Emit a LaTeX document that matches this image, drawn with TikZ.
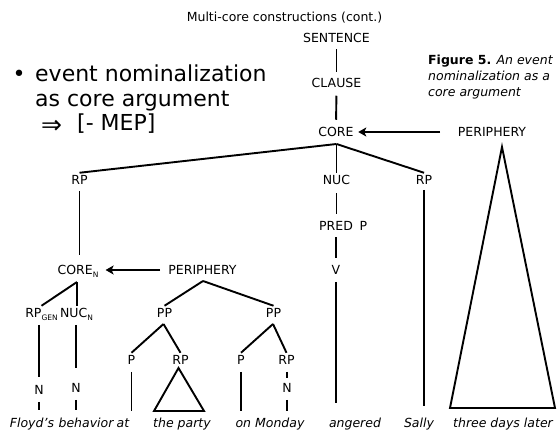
\documentclass[tikz,border=0pt]{standalone}
\usepackage{fontspec}
\setmainfont{DejaVu Sans}
\usetikzlibrary{arrows.meta,calc}
% small lowered index for category labels
\newcommand\lsub[1]{\raisebox{-2.8pt}{\fontsize{7.5}{8}\selectfont #1}}
\begin{document}
\begin{tikzpicture}[x=1pt,y=-1pt,
  lbl/.style={inner sep=2.5pt,text height=9.1pt,text depth=0pt,font=\fontsize{12.5}{14}\selectfont},
  word/.style={inner sep=0pt,anchor=base,font=\fontsize{12.5}{14}\selectfont\itshape},
  txt/.style={inner sep=0pt,anchor=base west},
  br/.style={line width=1.9pt},
  arr/.style={line width=1.9pt,-{Stealth[length=8pt,width=9pt,inset=2pt]}}]
\useasboundingbox (0,0) rectangle (559,433);

% heading
\node[inner sep=0pt,anchor=base,font=\fontsize{12.5}{14}\selectfont] (title) at (284.5,22) {Multi-core constructions (cont.)};

% caption
\begin{scope}[font=\fontsize{12.5}{14}\selectfont]
\node[txt] (cap1) at (428,65) {\textbf{Figure 5.} \textit{An event}};
\node[txt] (cap2) at (428,81) {\textit{nominalization as a}};
\node[txt] (cap3) at (428,97) {\textit{core argument}};
\end{scope}

% bullet point
\begin{scope}[font=\fontsize{22}{26}\selectfont]
\node[txt] (dot) at (12.5,82) {•};
\node[txt] (b1) at (35,82) {event nominalization};
\node[txt] (b2) at (35,106.5) {as core argument};
\node[txt,font=\fontsize{25}{28}\selectfont] (impl) at (41,133) {⇒};
\node[txt] (b3) at (77,131) {[- MEP]};
\end{scope}

% spine of the clause
\node[lbl] (sentence) at (336.5,38) {SENTENCE};
\node[lbl] (clause) at (336.5,83) {CLAUSE};
\node[lbl] (core) at (336,132) {CORE};
\node[lbl] (periph) at (492,132) {PERIPHERY};
\node[lbl] (rpL) at (79.5,180) {RP};
\node[lbl] (nuc) at (336.5,180) {NUC};
\node[lbl] (rpR) at (424,180) {RP};
\node[lbl] (pred) at (336,226) {PRED};
\node[lbl] (predP) at (363.5,226) {P};
\node[lbl] (v) at (336,270) {V};

% nominal core
\node[lbl] (coreN) at (78,270) {CORE\lsub{N}};
\node[lbl] (periphN) at (202.5,270) {PERIPHERY};
\node[lbl] (rpgen) at (41.5,313) {RP\lsub{GEN}};
\node[lbl] (nucN) at (76.5,313) {NUC\lsub{N}};
\node[lbl] (pp1) at (164.5,313) {PP};
\node[lbl] (pp2) at (273.5,313) {PP};
\node[lbl] (p1) at (131.5,360) {P};
\node[lbl] (rp1) at (180.5,360) {RP};
\node[lbl] (p2) at (241,360) {P};
\node[lbl] (rp2) at (286.5,360) {RP};
\node[lbl] (n1) at (39,390) {N};
\node[lbl] (n2) at (76,388) {N};
\node[lbl] (n3) at (287,388) {N};

% words
\node[word] (w1) at (32,427) {Floyd’s};
\node[word] (w2) at (86,427) {behavior};
\node[word] (w3) at (123,427) {at};
\node[word] (w4) at (182,427) {the party};
\node[word] (w5) at (270,427) {on Monday};
\node[word] (w6) at (355,427) {angered};
\node[word] (w7) at (419,427) {Sally};
\node[word] (w8) at (503,427) {three days later};

% branching points and lower line ends
\coordinate (jcore) at (336.5,144);
\coordinate (jcoreN) at (77,282);
\coordinate (jperN) at (203,281);
\coordinate (jpp1) at (163.5,324);
\coordinate (jpp2) at (273,324);
\coordinate (eV) at (336,403);
\coordinate (eRpR) at (424,406);
\coordinate (eP1) at (131.5,411);
\coordinate (eP2) at (241,411);
\coordinate (eN1) at (39,410);
\coordinate (eN2) at (76,410);
\coordinate (eN3) at (287,411);
\coordinate (tA) at (502,147);
\coordinate (tL) at (450,408);
\coordinate (tR) at (555,408);
\coordinate (sA) at (178.5,368);
\coordinate (sL) at (154,411);
\coordinate (sR) at (204,411);

% branches
\draw[br,shorten <=4pt,shorten >=4pt] (sentence.south) -- (clause.north);
\draw[br,shorten <=5.5pt,shorten >=5pt] (clause.south) -- (core.north);
\draw[br] (jcore) -- (rpL.north);
\draw[br] (jcore) -- (nuc.north);
\draw[br] (jcore) -- (rpR.north);
\draw[br,shorten <=3.5pt,shorten >=7.5pt] (rpL.south) -- (coreN.north -| rpL);
\draw[br,shorten <=6pt,shorten >=5pt] (nuc.south) -- (pred.north -| nuc);
\draw[br,shorten <=4pt,shorten >=5pt] (pred.south) -- (v.north);
\draw[br,shorten <=4.5pt] (v.south) -- (eV);
\draw[br,shorten <=2.5pt] (rpR.south) -- (eRpR);
\draw[br] (jcoreN) -- (rpgen.north);
\draw[br] (jcoreN) -- (nucN.north -| jcoreN);
\draw[br,shorten <=4.5pt,shorten >=6pt] (rpgen.south -| n1) -- (n1.north);
\draw[br,shorten <=4.5pt,shorten >=13pt] (nucN.south -| n2) -- (n2.north);
\draw[br,shorten <=4.5pt] (n1.south) -- (eN1);
\draw[br,shorten <=4.5pt] (n2.south) -- (eN2);
\draw[br] (jperN) -- (pp1.north);
\draw[br] (jperN) -- (pp2.north);
\draw[br] (jpp1) -- (p1.north);
\draw[br] (jpp1) -- (rp1.north);
\draw[br] (jpp2) -- (p2.north);
\draw[br] (jpp2) -- (rp2.north);
\draw[br,shorten <=4.5pt] (p1.south) -- (eP1);
\draw[br,shorten <=4.5pt] (p2.south) -- (eP2);
\draw[br,shorten <=4.5pt,shorten >=3pt] (rp2.south -| n3) -- (n3.north);
\draw[br,shorten <=4.5pt] (n3.south) -- (eN3);
\draw[br,line join=miter] (sA) -- (sL) -- (sR) -- cycle;
\draw[br,line join=miter] (tA) -- (tL) -- (tR) -- cycle;

% periphery arrows
\draw[arr,shorten <=15pt,shorten >=2pt] (periph.west) -- (core.east);
\draw[arr,shorten <=5.5pt,shorten >=4.5pt] (periphN.west) -- (coreN.east);
\end{tikzpicture}
\end{document}
